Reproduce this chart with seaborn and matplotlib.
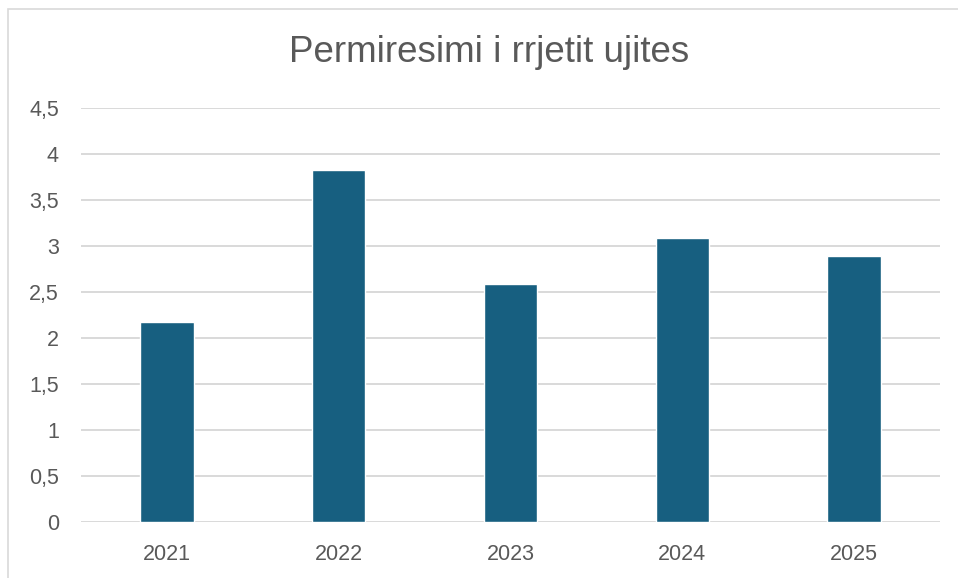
import pandas as pd
import seaborn as sns
import matplotlib.pyplot as plt
from matplotlib.patches import Rectangle

# data
years = ["2021", "2022", "2023", "2024", "2025"]
values = [2.17, 3.83, 2.59, 3.09, 2.89]
y_ticks = [0, 0.5, 1, 1.5, 2, 2.5, 3, 3.5, 4, 4.5]
y_labels = ["0", "0,5", "1", "1,5", "2", "2,5", "3", "3,5", "4", "4,5"]

df = pd.DataFrame({"year": years, "value": values})

sns.set_style("white")
plt.rcParams["font.family"] = ["Liberation Sans", "DejaVu Sans"]

text_col = "#595959"
grid_col = "#D9D9D9"
bar_col = "#175F80"

fig = plt.figure(figsize=(9.58, 5.78), dpi=100)
ax = fig.add_axes([81 / 958, 56 / 578, 859 / 958, 414 / 578])

# outer chart frame (cut off at right/bottom like the screenshot)
fig.patches.append(Rectangle((8 / 958, -0.5), 2, 1.5 - 9 / 578,
                             transform=fig.transFigure, fill=False,
                             edgecolor=grid_col, linewidth=1.2))

sns.barplot(data=df, x="year", y="value", color=bar_col, width=0.31,
            saturation=1, ax=ax, zorder=3)

ax.set_ylim(0, 4.5)
ax.set_yticks(y_ticks)
ax.set_yticklabels(y_labels)
ax.set_xlim(-0.5, 4.5)
ax.yaxis.grid(True, color=grid_col, linewidth=1.4, zorder=0)
ax.set_axisbelow(True)
for s in ax.spines.values():
    s.set_visible(False)
ax.tick_params(axis="both", length=0, labelsize=15.5, labelcolor=text_col)
ax.tick_params(axis="y", pad=16)
ax.tick_params(axis="x", pad=16)
ax.set_xlabel("")
ax.set_ylabel("")

fig.text(489 / 958, 1 - 52 / 578, "Permiresimi i rrjetit ujites",
         ha="center", va="center", fontsize=26.5, color=text_col)

fig.savefig("out.png", dpi=100)
